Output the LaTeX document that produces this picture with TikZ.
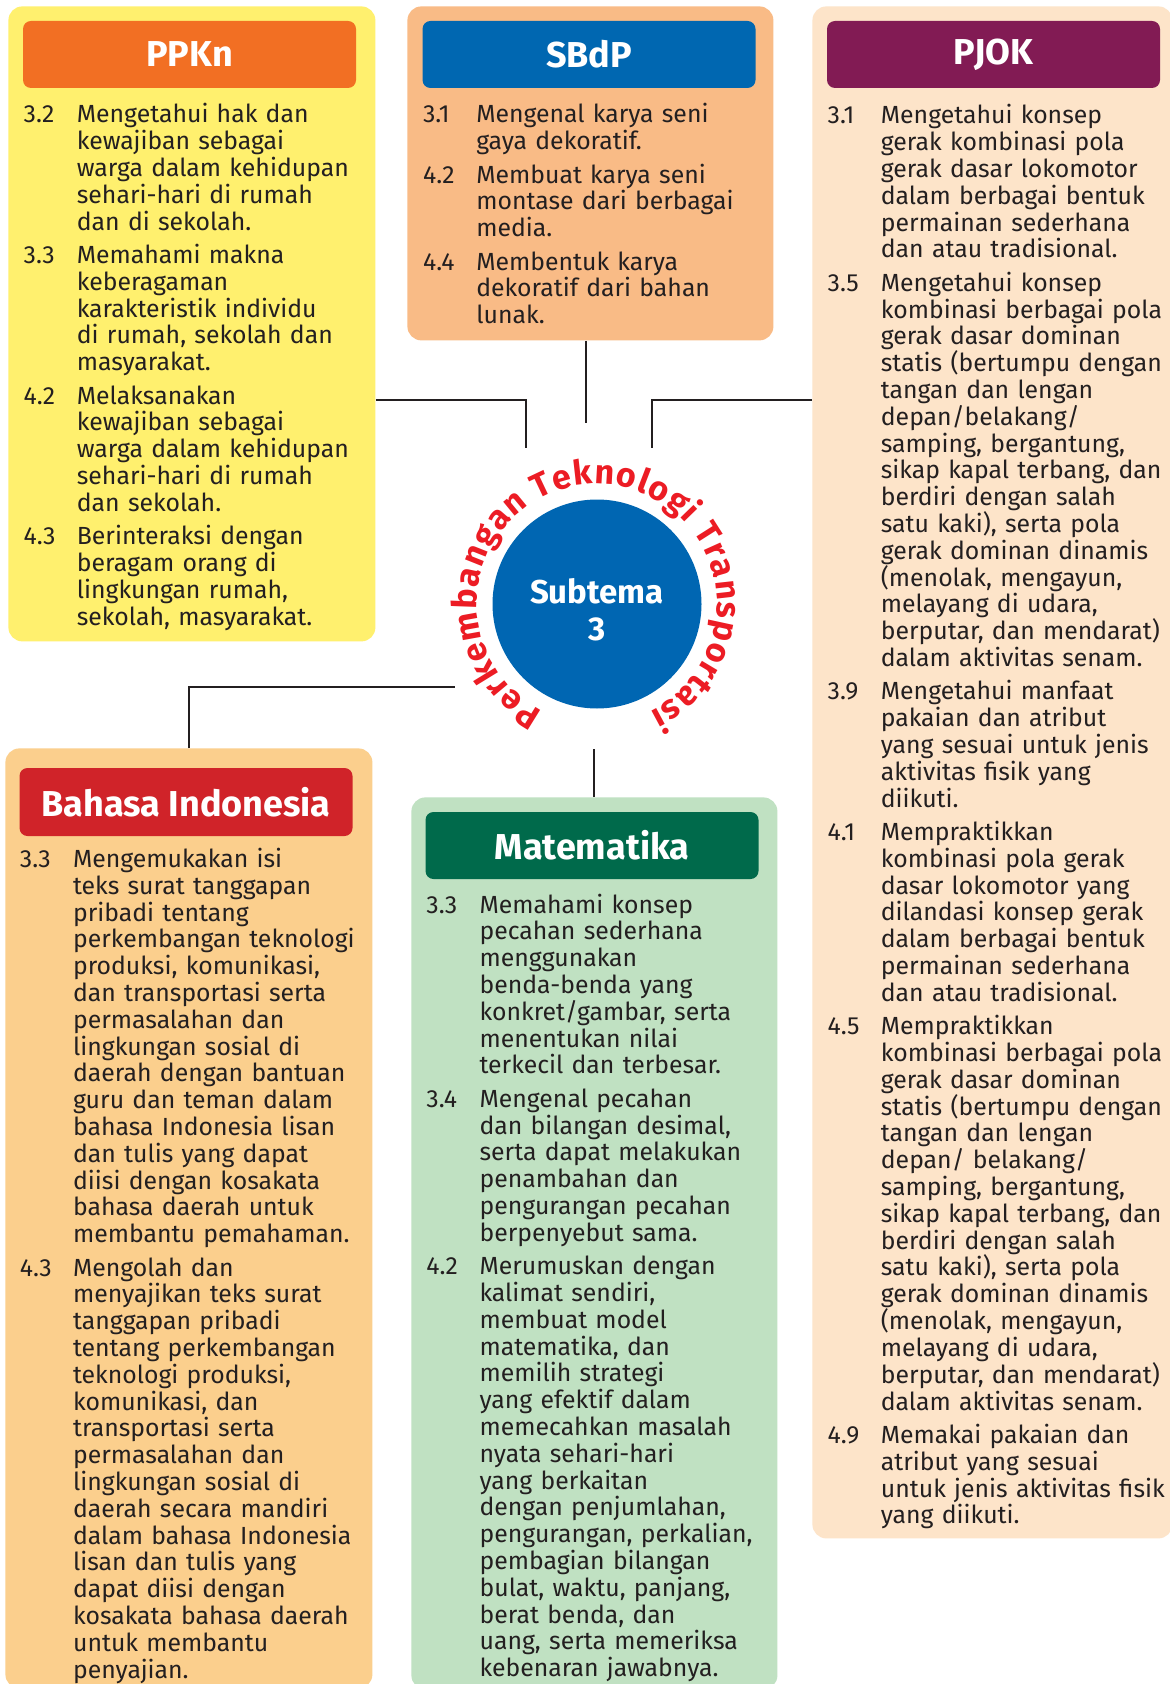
\documentclass[tikz,border=0pt]{standalone}
\usepackage{fontspec}
\setmainfont{Fira Sans}
\usetikzlibrary{decorations.text}

\definecolor{ppknbg}{HTML}{FFF06E}
\definecolor{ppknhd}{HTML}{F26F23}
\definecolor{sbdpbg}{HTML}{F9BB86}
\definecolor{sbdphd}{HTML}{0067B1}
\definecolor{pjokbg}{HTML}{FDE4C9}
\definecolor{pjokhd}{HTML}{821B54}
\definecolor{bindbg}{HTML}{FBCF8D}
\definecolor{bindhd}{HTML}{D02329}
\definecolor{mtkbg}{HTML}{C0E1C2}
\definecolor{mtkhd}{HTML}{006A4B}
\definecolor{hubblue}{HTML}{0066B2}
\definecolor{ringred}{HTML}{EC1C24}
\definecolor{ink}{HTML}{231F20}

\setlength{\lineskiplimit}{-10pt}
\newlength{\numw}
\setlength{\numw}{26.6pt}
\newcommand{\kdbreak}{\hfil\break}
\newcommand{\kd}[2]{{\let\\\kdbreak\hangindent=\numw\hangafter=1\noindent\makebox[\numw][l]{#1}#2\par}\vspace{3.3pt}}
\newcommand{\ringfont}{\fontsize{17}{17}\selectfont\bfseries}

\begin{document}
\begin{tikzpicture}[x=0.5pt,y=0.5pt,
  panel/.style={anchor=north west,inner sep=0pt,rounded corners=7pt},
  head/.style={inner sep=0pt,rounded corners=4pt,minimum width=166.5pt,minimum height=33.5pt,
    text=white,font=\fontsize{18}{18}\selectfont\bfseries},
  body/.style={anchor=base west,inner sep=0pt,text width=190pt,text=ink,
    font=\fontsize{12.4}{13.4}\selectfont},
  link/.style={draw=ink,line width=1.35pt}]
\path[use as bounding box,clip] (0,0) rectangle (1170,-1684);
\fill[white] (0,0) rectangle (1170,-1684);

\node[panel,fill=ppknbg,minimum width=183.5pt,minimum height=317.5pt] (ppkn) at (8,-6) {};
\node[panel,fill=sbdpbg,minimum width=183pt,minimum height=167pt] (sbdp) at (407,-6) {};
\node[panel,fill=pjokbg,minimum width=180pt,minimum height=766pt] (pjok) at (812,-6) {};
\node[panel,fill=bindbg,minimum width=183.5pt,minimum height=470pt] (bind) at (5,-748) {};
\node[panel,fill=mtkbg,minimum width=183pt,minimum height=446pt] (mtk) at (411,-797) {};

\node[head,fill=ppknhd] (ppknhead) at (189.5,-54.5) {PPKn};
\node[head,fill=sbdphd] (sbdphead) at (589,-54.5) {SBdP};
\node[head,fill=pjokhd] (pjokhead) at (993.5,-54.5) {PJOK};
\node[head,fill=bindhd,minimum height=34pt] (bindhead) at (186,-802) {Bahasa Indonesia};
\node[head,fill=mtkhd] (mtkhead) at (592,-845.5) {Matematika};

\node[body] (ppkntext) at (23.3,-123) {%
\kd{3.2}{Mengetahui hak dan\\kewajiban sebagai\\warga dalam kehidupan\\sehari-hari di rumah\\dan di sekolah.}
\kd{3.3}{Memahami makna\\keberagaman\\karakteristik individu\\di rumah, sekolah dan\\masyarakat.}
\kd{4.2}{Melaksanakan\\kewajiban sebagai\\warga dalam kehidupan\\sehari-hari di rumah\\dan sekolah.}
\kd{4.3}{Berinteraksi dengan\\beragam orang di\\lingkungan rumah,\\sekolah, masyarakat.}};

\node[body] (sbdptext) at (422.7,-123) {%
\kd{3.1}{Mengenal karya seni\\gaya dekoratif.}
\kd{4.2}{Membuat karya seni\\montase dari berbagai\\media.}
\kd{4.4}{Membentuk karya\\dekoratif dari bahan\\lunak.}};

\node[body] (pjoktext) at (827.3,-124) {%
\kd{3.1}{Mengetahui konsep\\gerak kombinasi pola\\gerak dasar lokomotor\\dalam berbagai bentuk\\permainan sederhana\\dan atau tradisional.}
\kd{3.5}{Mengetahui konsep\\kombinasi berbagai pola\\gerak dasar dominan\\statis (bertumpu dengan\\tangan dan lengan\\depan/belakang/\\samping, bergantung,\\sikap kapal terbang, dan\\berdiri dengan salah\\satu kaki), serta pola\\gerak dominan dinamis\\(menolak, mengayun,\\melayang di udara,\\berputar, dan mendarat)\\dalam aktivitas senam.}
\kd{3.9}{Mengetahui manfaat\\pakaian dan atribut\\yang sesuai untuk jenis\\aktivitas fisik yang\\diikuti.}
\kd{4.1}{Mempraktikkan\\kombinasi pola gerak\\dasar lokomotor yang\\dilandasi konsep gerak\\dalam berbagai bentuk\\permainan sederhana\\dan atau tradisional.}
\kd{4.5}{Mempraktikkan\\kombinasi berbagai pola\\gerak dasar dominan\\statis (bertumpu dengan\\tangan dan lengan\\depan/ belakang/\\samping, bergantung,\\sikap kapal terbang, dan\\berdiri dengan salah\\satu kaki), serta pola\\gerak dominan dinamis\\(menolak, mengayun,\\melayang di udara,\\berputar, dan mendarat)\\dalam aktivitas senam.}
\kd{4.9}{Memakai pakaian dan\\atribut yang sesuai\\untuk jenis aktivitas fisik\\yang diikuti.}};

\node[body] (bindtext) at (19.5,-867.5) {%
\kd{3.3}{Mengemukakan isi\\teks surat tanggapan\\pribadi tentang\\perkembangan teknologi\\produksi, komunikasi,\\dan transportasi serta\\permasalahan dan\\lingkungan sosial di\\daerah dengan bantuan\\guru dan teman dalam\\bahasa Indonesia lisan\\dan tulis yang dapat\\diisi dengan kosakata\\bahasa daerah untuk\\membantu pemahaman.}
\kd{4.3}{Mengolah dan\\menyajikan teks surat\\tanggapan pribadi\\tentang perkembangan\\teknologi produksi,\\komunikasi, dan\\transportasi serta\\permasalahan dan\\lingkungan sosial di\\daerah secara mandiri\\dalam bahasa Indonesia\\lisan dan tulis yang\\dapat diisi dengan\\kosakata bahasa daerah\\untuk membantu\\penyajian.}};

\node[body] (mtktext) at (426,-913) {%
\kd{3.3}{Memahami konsep\\pecahan sederhana\\menggunakan\\benda-benda yang\\konkret/gambar, serta\\menentukan nilai\\terkecil dan terbesar.}
\kd{3.4}{Mengenal pecahan\\dan bilangan desimal,\\serta dapat melakukan\\penambahan dan\\pengurangan pecahan\\berpenyebut sama.}
\kd{4.2}{Merumuskan dengan\\kalimat sendiri,\\membuat model\\matematika, dan\\memilih strategi\\yang efektif dalam\\memecahkan masalah\\nyata sehari-hari\\yang berkaitan\\dengan penjumlahan,\\pengurangan, perkalian,\\pembagian bilangan\\bulat, waktu, panjang,\\berat benda, dan\\uang, serta memeriksa\\kebenaran jawabnya.}};

\node[circle,fill=hubblue,minimum size=104.5pt,inner sep=0pt] (hub) at (597,-604) {};
\node[text=white,align=center,font=\fontsize{16.5}{18.5}\selectfont\bfseries]
  (hublabel) at ([yshift=-2.8pt]hub.center) {Subtema\\3};
\path[decorate,decoration={text along path,text color=ringred,text align={fit to path},
  text={|\ringfont|Perkembangan Teknologi Transportasi}}]
  (hub.center) ++(243:120) arc[start angle=243,end angle=-64,radius=120];

\coordinate (ppknjoin) at (526,-400);
\coordinate (ppknend) at (526,-448);
\coordinate (sbdpend) at (586,-423);
\coordinate (pjokjoin) at (652,-400);
\coordinate (pjokend) at (652,-448);
\coordinate (bindjoin) at (189,-687);
\coordinate (bindend) at (455,-687);
\coordinate (mtkend) at (594,-749);
\draw[link] (ppkn.east |- ppknjoin) -- (ppknjoin) -- (ppknend);
\draw[link] (sbdpend |- sbdp.south) -- (sbdpend);
\draw[link] (pjok.west |- pjokjoin) -- (pjokjoin) -- (pjokend);
\draw[link] (bindjoin |- bind.north) -- (bindjoin) -- (bindend);
\draw[link] (mtkend |- mtk.north) -- (mtkend);
\end{tikzpicture}
\end{document}
